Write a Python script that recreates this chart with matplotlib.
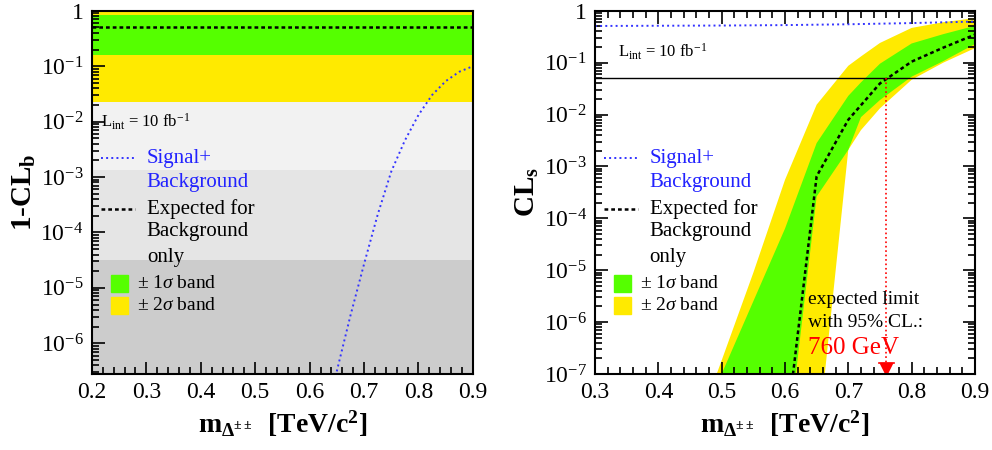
import matplotlib.pyplot as plt
import numpy as np
from matplotlib.patches import Rectangle
from matplotlib.ticker import FuncFormatter, MultipleLocator, FixedLocator

plt.rcParams['font.family'] = ['Liberation Serif', 'DejaVu Serif']
plt.rcParams['mathtext.fontset'] = 'custom'
plt.rcParams['mathtext.rm'] = 'Liberation Serif'
plt.rcParams['mathtext.it'] = 'Liberation Serif:italic'
plt.rcParams['mathtext.bf'] = 'Liberation Serif:bold'

GREEN = '#55ff00'
YELLOW = '#ffea00'

# ---- left panel: 1-CL_b ----
# p-values of the background-only expectation (1 and 2 sigma bands, 3/4 sigma levels)
band1_lo, band1_hi = 0.1587, 0.8413
band2_lo, band2_hi = 0.02275, 0.97725
sig3 = 0.00135
sig4 = 3.17e-5
exp_clb = 0.5
# signal+background 1-CL_b curve (log10 values)
mass_clb = [0.625, 0.65, 0.675, 0.70, 0.725, 0.75, 0.775, 0.80, 0.825, 0.85, 0.875, 0.90]
log_clb_sb = [-7.5, -6.5, -5.5, -4.57, -3.68, -2.9, -2.34, -1.88, -1.52, -1.27, -1.1, -1.0]

# ---- right panel: CL_s ----
mass = [0.45, 0.50, 0.55, 0.60, 0.65, 0.70, 0.72, 0.75, 0.80, 0.85, 0.90]
log_y2_hi = [-8.4, -6.74, -5.05, -3.26, -1.81, -1.06, -0.88, -0.62, -0.33, -0.22, -0.14]
log_g1_hi = [-8.6, -7.0, -5.6, -4.2, -2.55, -1.64, -1.38, -1.02, -0.63, -0.45, -0.29]
log_g1_lo = [-14, -13, -12, -8.8, -3.58, -2.68, -2.05, -1.72, -1.27, -0.97, -0.64]
log_y2_lo = [-16, -15, -14, -13, -8.5, -2.68, -2.3, -1.88, -1.33, -1.0, -0.72]
mass_exp = [0.60, 0.65, 0.70, 0.75, 0.80, 0.85, 0.90]
log_cls_exp = [-8.3, -3.19, -2.1, -1.40, -0.98, -0.71, -0.46]
mass_sb = [0.3, 0.4, 0.5, 0.6, 0.7, 0.8, 0.9]
cls_sb = [0.51, 0.515, 0.52, 0.53, 0.55, 0.58, 0.62]
cl95 = 0.05
limit_mass = 0.76


def pow10(v):
    return 10.0 ** np.array(v)


def log_fmt(val, pos):
    e = int(round(np.log10(val)))
    if e == 0:
        return '1'
    return r'$\mathregular{10^{%d}}$' % e


def style_axes(ax, xmin, xmax, ymin, ymax, all_sides):
    ax.set_yscale('log')
    ax.set_xlim(xmin, xmax)
    ax.set_ylim(ymin, ymax)
    ax.xaxis.set_major_locator(MultipleLocator(0.1))
    ax.xaxis.set_minor_locator(MultipleLocator(0.02))
    # only ticks inside the range
    emin = int(np.ceil(np.log10(ymin) - 1e-9))
    majors = [10.0 ** e for e in range(emin, 1)]
    minors = [s * 10.0 ** e for e in range(emin - 1, 0) for s in range(2, 10)
              if ymin <= s * 10.0 ** e <= ymax]
    ax.yaxis.set_major_locator(FixedLocator(majors))
    ax.yaxis.set_minor_locator(FixedLocator(minors))
    ax.yaxis.set_major_formatter(FuncFormatter(log_fmt))
    ax.yaxis.set_minor_formatter(FuncFormatter(lambda v, p: ''))
    ax.tick_params(which='both', direction='in', top=all_sides, right=all_sides,
                   labelsize=17, width=1.2, pad=6)
    ax.tick_params(which='major', length=9)
    ax.tick_params(which='minor', length=5)
    for s in ax.spines.values():
        s.set_linewidth(1.5)
    ax.set_xlabel(r'$\mathbf{m_{\Delta^{\pm\pm}}}$  [TeV/c$^\mathbf{2}$]',
                  fontsize=20, fontweight='bold', labelpad=4)


def legend_block(ax, x0):
    t = ax.transAxes
    ax.plot([x0, x0 + 0.09], [0.594, 0.594], transform=t, color='#3333ff', ls=':', lw=1.4)
    ax.text(x0 + 0.12, 0.594, 'Signal+', transform=t, color='#2222ff', fontsize=15, va='center')
    ax.text(x0 + 0.12, 0.528, 'Background', transform=t, color='#2222ff', fontsize=15, va='center')
    ax.plot([x0, x0 + 0.09], [0.455, 0.455], transform=t, color='black', ls=(0, (1.5, 1.2)), lw=1.8)
    ax.text(x0 + 0.12, 0.455, 'Expected for', transform=t, fontsize=15, va='center')
    ax.text(x0 + 0.12, 0.391, 'Background', transform=t, fontsize=15, va='center')
    ax.text(x0 + 0.12, 0.320, 'only', transform=t, fontsize=15, va='center')
    ax.add_patch(Rectangle((x0 + 0.025, 0.226), 0.045, 0.046, transform=t, color=GREEN))
    ax.add_patch(Rectangle((x0 + 0.025, 0.166), 0.045, 0.046, transform=t, color=YELLOW))
    ax.text(x0 + 0.095, 0.249, r'$\pm$ 1$\sigma$ band', transform=t, fontsize=14, va='center')
    ax.text(x0 + 0.095, 0.189, r'$\pm$ 2$\sigma$ band', transform=t, fontsize=14, va='center')


fig = plt.figure(figsize=(9.92, 4.5), dpi=100)
ax1 = fig.add_axes([0.0927, 0.169, 0.384, 0.807])
ax2 = fig.add_axes([0.5998, 0.169, 0.383, 0.807])

# left panel
ax1.axhspan(1e-9, sig4, color='#cccccc', lw=0)
ax1.axhspan(sig4, sig3, color='#e5e5e5', lw=0)
ax1.axhspan(sig3, band2_lo, color='#f2f2f2', lw=0)
ax1.axhspan(band2_lo, 1.2, color=YELLOW, lw=0)
ax1.axhspan(band1_lo, band1_hi, color=GREEN, lw=0)
ax1.axhline(exp_clb, color='black', ls=(0, (1.5, 1.2)), lw=1.8)
ax1.plot(mass_clb, pow10(log_clb_sb), color='#3333ff', ls=':', lw=1.4)
style_axes(ax1, 0.2, 0.9, 2.8e-7, 1.0, False)
ax1.set_ylabel(r'$\mathbf{1\text{-}CL_b}$', fontsize=21, labelpad=2)
ax1.text(0.024, 0.694, r'L$_\mathregular{int}$ = 10 fb$^\mathregular{-1}$', transform=ax1.transAxes,
         fontsize=12, va='center')
legend_block(ax1, 0.024)

# right panel
ax2.fill_between(mass, pow10(log_y2_lo), pow10(log_y2_hi), color=YELLOW, lw=0)
ax2.fill_between(mass, pow10(log_g1_lo), pow10(log_g1_hi), color=GREEN, lw=0)
ax2.plot(mass_exp, pow10(log_cls_exp), color='black', ls=(0, (1.5, 1.2)), lw=1.8)
ax2.plot(mass_sb, cls_sb, color='#3333ff', ls=':', lw=1.4)
ax2.axhline(cl95, color='black', lw=1.0)
ax2.plot([limit_mass, limit_mass], [cl95, 1.6e-7], color='red', ls=':', lw=1.2)
ax2.plot([limit_mass - 0.012, limit_mass + 0.012], [1.6e-7, 1.6e-7], color='red', lw=1.2)
ax2.plot([limit_mass], [1.25e-7], marker='v', color='red', markersize=9)
style_axes(ax2, 0.3, 0.9, 1e-7, 1.0, True)
ax2.set_ylabel(r'$\mathbf{CL_s}$', fontsize=21, labelpad=2)
ax2.text(0.06, 0.887, r'L$_\mathregular{int}$ = 10 fb$^\mathregular{-1}$', transform=ax2.transAxes,
         fontsize=12, va='center')
legend_block(ax2, 0.024)
ax2.text(0.56, 0.205, 'expected limit', transform=ax2.transAxes, fontsize=14, va='center')
ax2.text(0.56, 0.141, 'with 95% CL.:', transform=ax2.transAxes, fontsize=14, va='center')
ax2.text(0.56, 0.072, '760 GeV', transform=ax2.transAxes, fontsize=18, color='red', va='center')

plt.savefig('out.png', dpi=100)
